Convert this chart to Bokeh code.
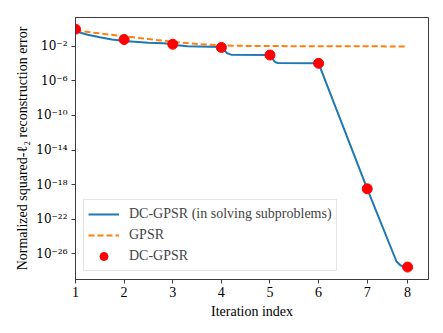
from bokeh.plotting import figure
from bokeh.models import Range1d, FixedTicker, Legend, LegendItem
from bokeh.embed import file_html
from bokeh.resources import INLINE

# Tick positions on the (inner-step) x scale and their iteration labels
tick_positions = [1, 2, 3, 4, 5, 6, 7, 7.83]
tick_labels = ["1", "2", "3", "4", "5", "6", "7", "8"]

# DC-GPSR outer iterations (red dots)
dc_x = [1, 2, 3, 4, 5, 6, 7, 7.83]
dc_y = [1.0, 0.063, 0.018, 0.0076, 0.001, 1.1e-4, 3.2e-19, 2.75e-28]

# DC-GPSR while solving subproblems (blue line)
sub_x = [1.00, 1.25, 1.50, 1.75, 2.00, 2.50, 2.80, 3.00, 3.10, 3.30, 4.00,
         4.05, 4.12, 4.20, 5.00, 5.05, 5.10, 5.16, 6.00, 7.00, 7.60, 7.68,
         7.75, 7.83]
sub_y = [0.56, 0.224, 0.115, 0.065, 0.042, 0.027, 0.024, 0.019, 0.014, 0.0105,
         0.0083, 0.0040, 0.0016, 0.00112, 0.0010, 4.0e-4, 1.6e-4, 1.2e-4,
         1.1e-4, 3.2e-19, 1.3e-27, 4.5e-28, 3.0e-28, 2.75e-28]

# GPSR (orange dashed)
gpsr_x = [1, 1.5, 2, 2.5, 3, 3.5, 4, 4.5, 5, 6, 7, 7.83]
gpsr_y = [0.71, 0.32, 0.15, 0.071, 0.035, 0.019, 0.0132, 0.0115, 0.011,
          0.0105, 0.0102, 0.010]

# Y ticks (exponents) and labels
y_exps = [-2, -6, -10, -14, -18, -22, -26]
y_labels = ["10⁻²", "10⁻⁶", "10⁻¹⁰", "10⁻¹⁴", "10⁻¹⁸", "10⁻²²", "10⁻²⁶"]

FONT = "Liberation Serif"
SUP_FONT = "DejaVu Serif"
DARK = "#3a3a3a"

p = figure(width=443, height=333,
           x_range=Range1d(1, 8.26),
           y_range=Range1d(10 ** -29.0, 10 ** 1.35),
           y_axis_type="log",
           output_backend="svg", toolbar_location=None,
           min_border_left=75, min_border_right=15,
           min_border_top=17, min_border_bottom=54)

p.grid.visible = False
p.outline_line_color = DARK
p.outline_line_width = 1
p.background_fill_color = "white"
p.border_fill_color = "white"

r_sub = p.line(sub_x, sub_y, line_color="#1f77b4", line_width=2)
r_gpsr = p.line(gpsr_x, gpsr_y, line_color="#ff7f0e", line_width=2,
                line_dash="6 3")
r_dc = p.scatter(dc_x, dc_y, size=10, color="#ff0000")

# X axis
p.xaxis.ticker = FixedTicker(ticks=tick_positions)
p.xaxis.major_label_overrides = {t: l for t, l in zip(tick_positions, tick_labels)}
p.xaxis.axis_label = "Iteration index"

# Y axis
y_ticks = [10.0 ** e for e in y_exps]
p.yaxis.ticker = FixedTicker(ticks=y_ticks, minor_ticks=[])
p.yaxis.major_label_overrides = {t: l for t, l in zip(y_ticks, y_labels)}
p.yaxis.axis_label = "Normalized squared-ℓ₂ reconstruction error"

for ax in (p.xaxis[0], p.yaxis[0]):
    ax.axis_line_color = DARK
    ax.major_tick_line_color = DARK
    ax.minor_tick_line_color = None
    ax.major_tick_out = 4
    ax.major_tick_in = 0
    ax.major_label_text_font = FONT
    ax.major_label_text_font_size = "14px"
    ax.major_label_text_color = "black"
    ax.axis_label_text_font = FONT
    ax.axis_label_text_font_size = "14px"
    ax.axis_label_text_font_style = "normal"
    ax.axis_label_text_color = "black"

p.yaxis.major_label_text_font = SUP_FONT
p.yaxis.major_label_text_font_size = "12px"

p.xaxis.major_label_standoff = 3
p.xaxis.axis_label_standoff = 4
p.yaxis.major_label_standoff = 4
p.yaxis.axis_label_standoff = 3

legend = Legend(items=[
    LegendItem(label="DC-GPSR (in solving subproblems)", renderers=[r_sub]),
    LegendItem(label="GPSR", renderers=[r_gpsr]),
    LegendItem(label="DC-GPSR", renderers=[r_dc]),
], location="bottom_left")
legend.margin = 8
legend.padding = 4
legend.spacing = 1
legend.glyph_width = 31
legend.glyph_height = 20
legend.label_height = 20
legend.label_standoff = 10
legend.label_text_font = FONT
legend.label_text_font_size = "14px"
legend.border_line_color = "#cccccc"
legend.border_line_width = 1
legend.background_fill_color = "white"
legend.background_fill_alpha = 0.8
p.add_layout(legend)

open("out.html", "w").write(file_html(p, INLINE))
